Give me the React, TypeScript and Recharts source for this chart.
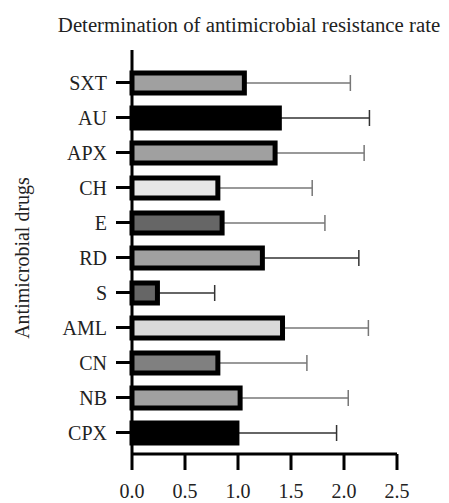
import { BarChart, Bar, XAxis, YAxis, Cell, ErrorBar } from 'recharts';

const drugs = ['SXT', 'AU', 'APX', 'CH', 'E', 'RD', 'S', 'AML', 'CN', 'NB', 'CPX'];
const rates = [1.06, 1.39, 1.35, 0.81, 0.85, 1.23, 0.24, 1.42, 0.81, 1.02, 0.99];
const upper = [2.06, 2.24, 2.19, 1.70, 1.82, 2.14, 0.78, 2.23, 1.65, 2.04, 1.93];
const fills = ['#a0a0a0', '#000000', '#a0a0a0', '#e6e6e6', '#666666', '#a0a0a0', '#666666', '#d9d9d9', '#808080', '#a0a0a0', '#000000'];
const darkErr = [false, true, false, false, false, true, true, false, false, false, true];
const xTicks = [0, 0.5, 1, 1.5, 2, 2.5];

const data = drugs.map((name, i) => ({
  name,
  rate: rates[i],
  errDark: darkErr[i] ? [0, upper[i] - rates[i]] : null,
  errGray: darkErr[i] ? null : [0, upper[i] - rates[i]],
}));

const font = '"Liberation Serif", "Times New Roman", serif';

export default function App() {
  return (
    <div style={{ position: 'absolute', left: 0, top: 0, width: 449, height: 503, background: '#fff', fontFamily: font }}>
      <style>{`.recharts-text, .recharts-cartesian-axis-tick-value { font-family: ${font}; }`}</style>
      <div style={{ position: 'absolute', left: 249, top: 25, transform: 'translate(-50%, -50%)', fontSize: 20.8, color: '#222', whiteSpace: 'nowrap' }}>
        Determination of antimicrobial resistance rate
      </div>
      <div style={{ position: 'absolute', left: 22, top: 258, transform: 'translate(-50%, -50%) rotate(-90deg)', fontSize: 20, color: '#222', whiteSpace: 'nowrap' }}>
        Antimicrobial drugs
      </div>
      <BarChart
        width={449}
        height={503}
        data={data}
        layout="vertical"
        margin={{ top: 50, right: 52, bottom: 0, left: 0 }}
        barCategoryGap={0}
        style={{ fontFamily: font }}
      >
        <XAxis
          type="number"
          domain={[0, 2.5]}
          ticks={xTicks}
          tickFormatter={(v: number) => v.toFixed(1)}
          axisLine={{ stroke: '#000', strokeWidth: 3 }}
          tickLine={{ stroke: '#000', strokeWidth: 3 }}
          tickSize={16}
          tickMargin={14}
          tick={{ fill: '#222', fontSize: 20 }}
          height={49}
        />
        <YAxis
          type="category"
          dataKey="name"
          width={132}
          padding={{ top: 15, bottom: 4 }}
          axisLine={{ stroke: '#000', strokeWidth: 3 }}
          tickLine={{ stroke: '#000', strokeWidth: 3 }}
          tickSize={16}
          tickMargin={9}
          tick={{ fill: '#222', fontSize: 20 }}
        />
        <Bar dataKey="rate" barSize={20} stroke="#000" strokeWidth={5} isAnimationActive={false}>
          {data.map((d, i) => (
            <Cell key={d.name} fill={fills[i]} />
          ))}
          {/* keep whiskers under the bars so the lower cap is hidden */}
          <ErrorBar dataKey="errGray" direction="x" width={8} stroke="#777" strokeWidth={1.5} zIndex={250} isAnimationActive={false} />
          <ErrorBar dataKey="errDark" direction="x" width={8} stroke="#333" strokeWidth={1.5} zIndex={250} isAnimationActive={false} />
        </Bar>
      </BarChart>
    </div>
  );
}
